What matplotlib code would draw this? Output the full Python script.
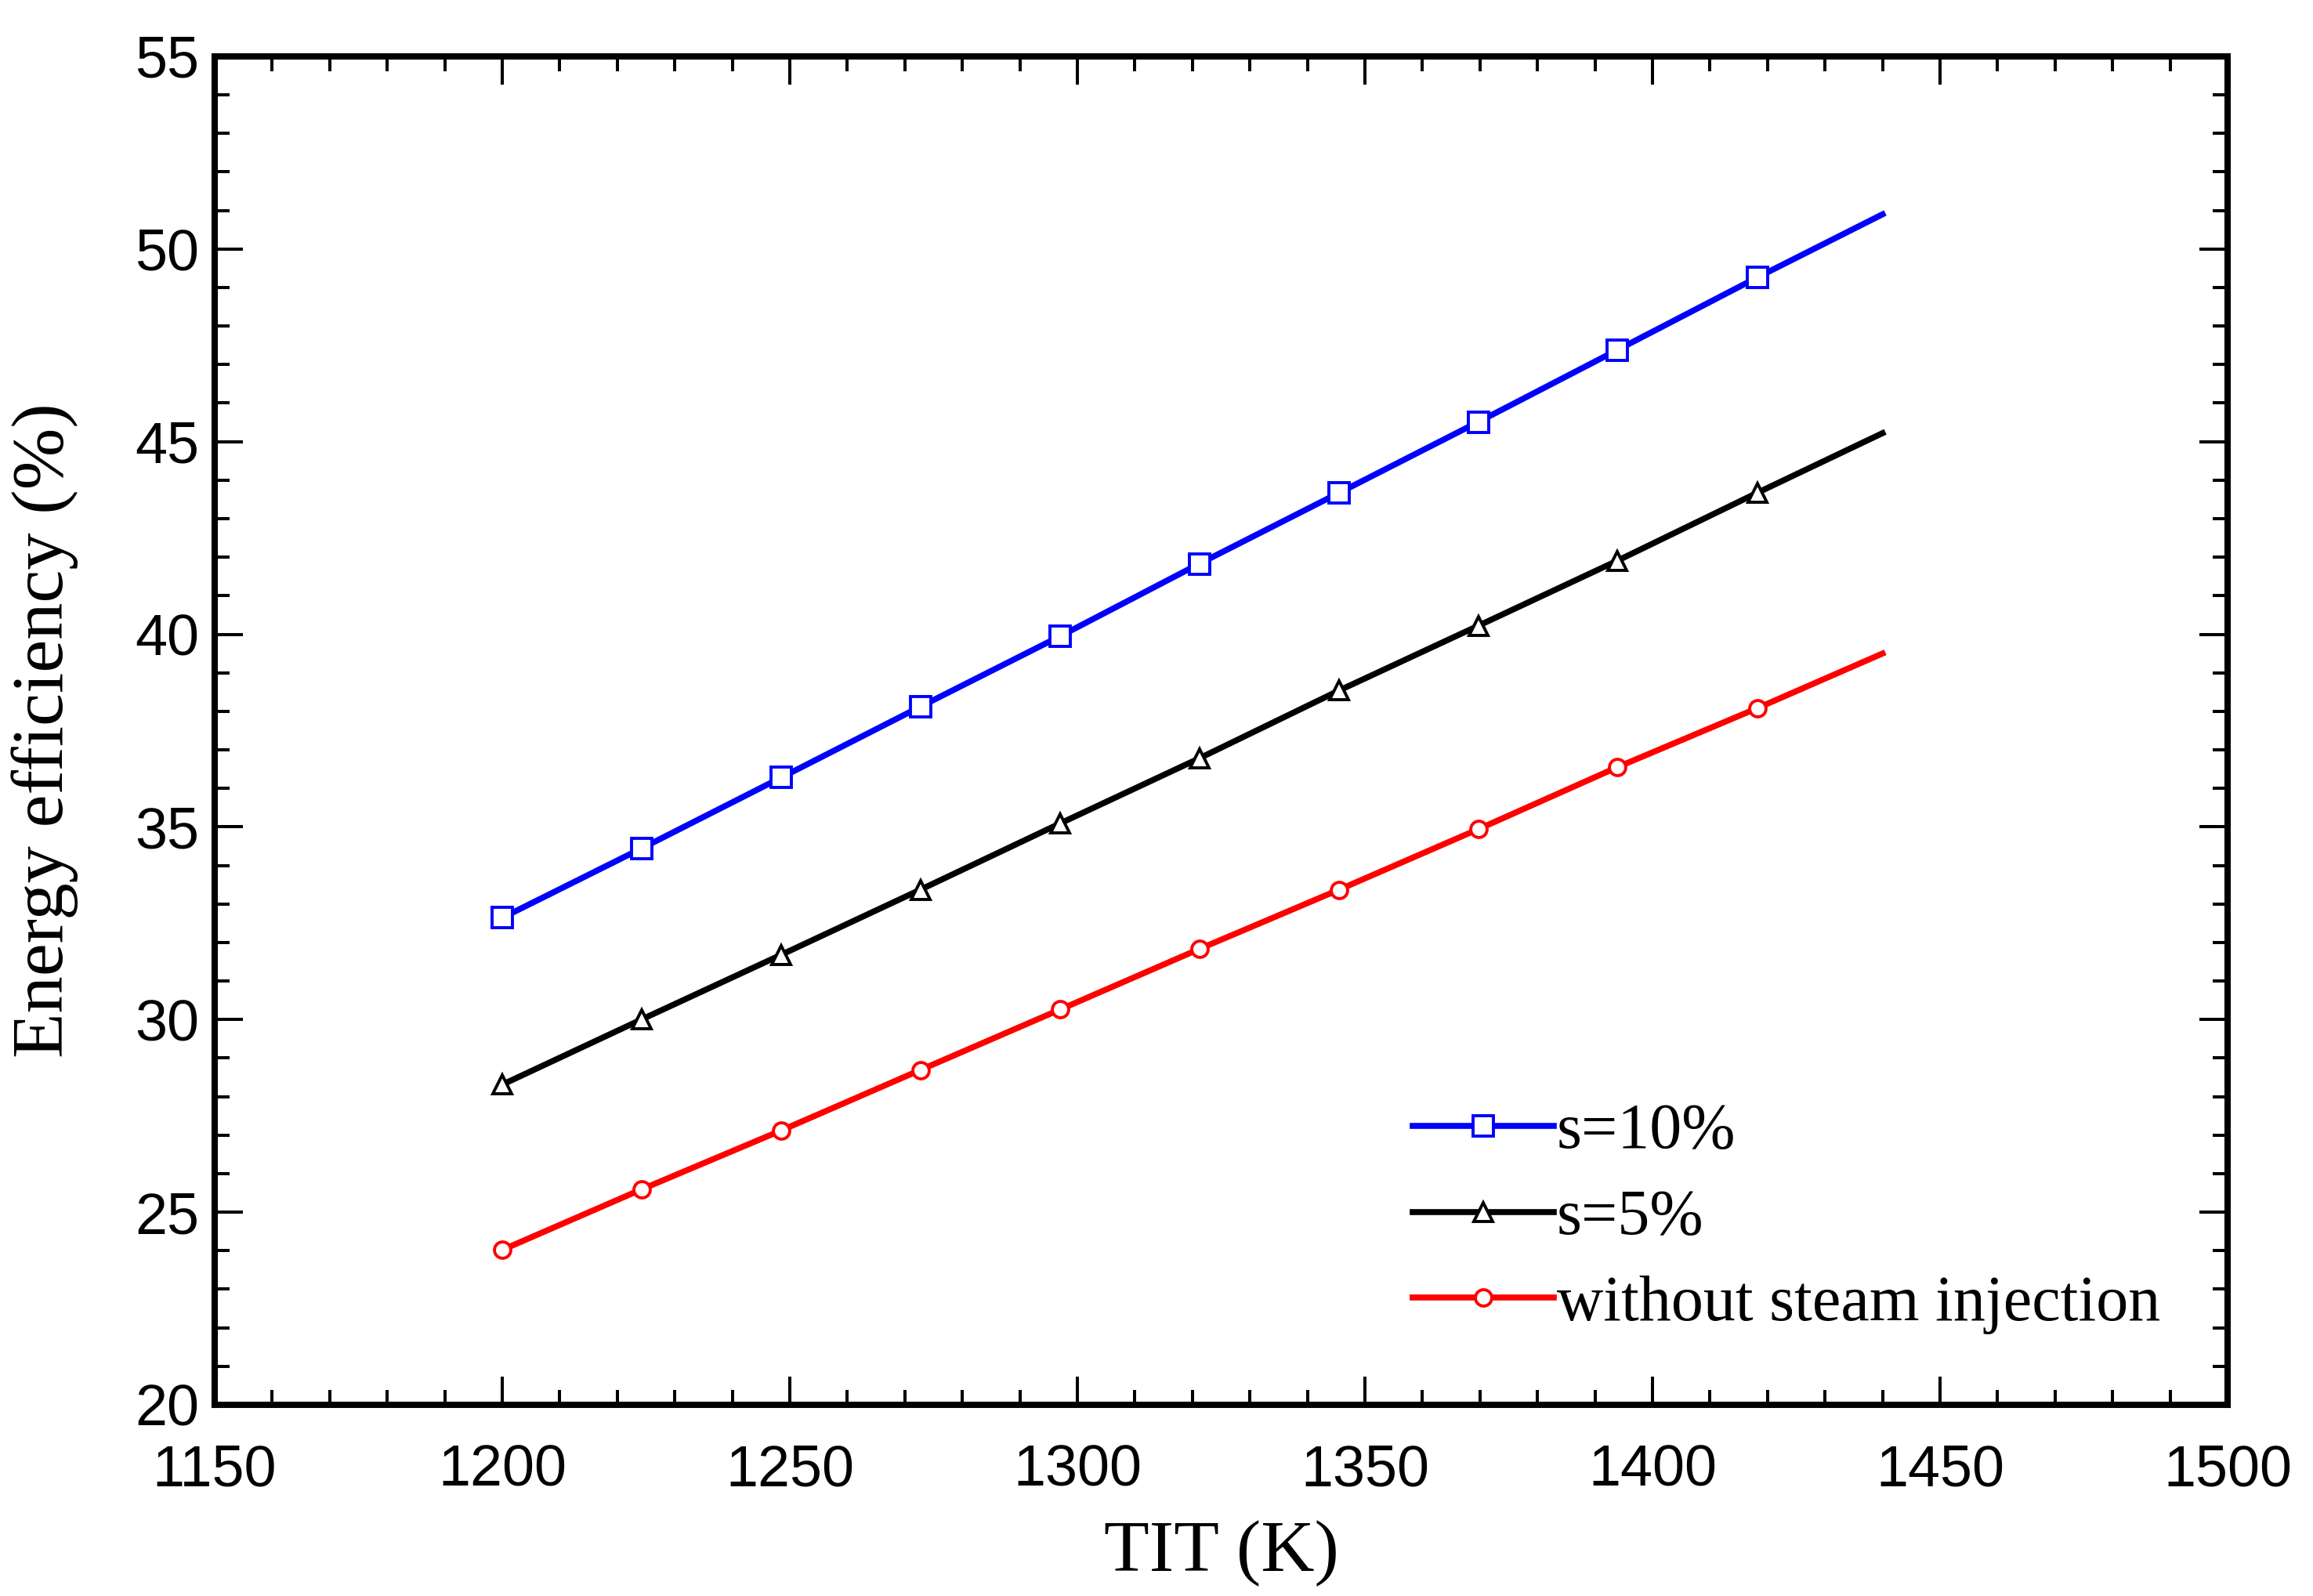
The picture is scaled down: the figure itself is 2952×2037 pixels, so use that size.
import matplotlib
matplotlib.use('Agg')
import matplotlib.pyplot as plt
from matplotlib.ticker import MultipleLocator

# TIT (K): marker positions plus the line end at 1440
tit = [1200, 1224.2, 1248.5, 1272.7, 1297.0, 1321.2, 1345.5, 1369.7, 1393.9, 1418.2, 1440]
eff_s10 = [32.64, 34.44, 36.28, 38.12, 39.95, 41.83, 43.67, 45.51, 47.38, 49.26, 50.90]
eff_s5 = [28.31, 30.00, 31.68, 33.37, 35.09, 36.78, 38.54, 40.22, 41.91, 43.67, 45.22]
eff_none = [24.02, 25.59, 27.12, 28.69, 30.26, 31.83, 33.37, 34.94, 36.55, 38.08, 39.50]
labels = ['s=10%', 's=5%', 'without steam injection']

fig = plt.figure(figsize=(29.52, 20.37), dpi=100)
ax = fig.add_axes([0.0928, 0.1198, 0.8703, 0.8449])

mk = slice(0, 10)
ax.plot(tit, eff_s10, color='#0000ff', lw=5.5, marker='s', ms=19, mfc='white',
        mec='#0000ff', mew=2.8, markevery=mk, label=labels[0])
ax.plot(tit, eff_s5, color='black', lw=5.5, marker='^', ms=17, mfc='white',
        mec='black', mew=2.8, markevery=mk, label=labels[1])
ax.plot(tit, eff_none, color='#ff0000', lw=5.5, marker='o', ms=15, mfc='white',
        mec='#ff0000', mew=2.8, markevery=mk, label=labels[2])

ax.set_xlim(1150, 1500)
ax.set_ylim(20, 55)
ax.xaxis.set_major_locator(MultipleLocator(50))
ax.xaxis.set_minor_locator(MultipleLocator(10))
ax.yaxis.set_major_locator(MultipleLocator(5))
ax.yaxis.set_minor_locator(MultipleLocator(1))

for s in ax.spines.values():
    s.set_linewidth(5.8)
ax.tick_params(which='both', direction='in', top=True, right=True, width=2.9)
ax.tick_params(which='major', length=26)
ax.tick_params(which='minor', length=14)
ax.tick_params(axis='x', pad=36)
ax.tick_params(axis='y', pad=14)
for t in ax.get_xticklabels() + ax.get_yticklabels():
    t.set_fontfamily('Liberation Sans')
    t.set_fontsize(53)

ax.set_xlabel('TIT (K)', fontfamily='Liberation Serif', fontsize=68, labelpad=20)
ax.set_ylabel('Energy efficiency (%)', fontfamily='Liberation Serif', fontsize=68, labelpad=52)

ax.legend(loc='center left', bbox_to_anchor=(0.595, 0.138), frameon=False,
          prop={'family': 'Liberation Serif', 'size': 59}, handlelength=2.2,
          handletextpad=0.05, labelspacing=0.42, borderpad=0, borderaxespad=0)

fig.savefig('out.png', dpi=100)
